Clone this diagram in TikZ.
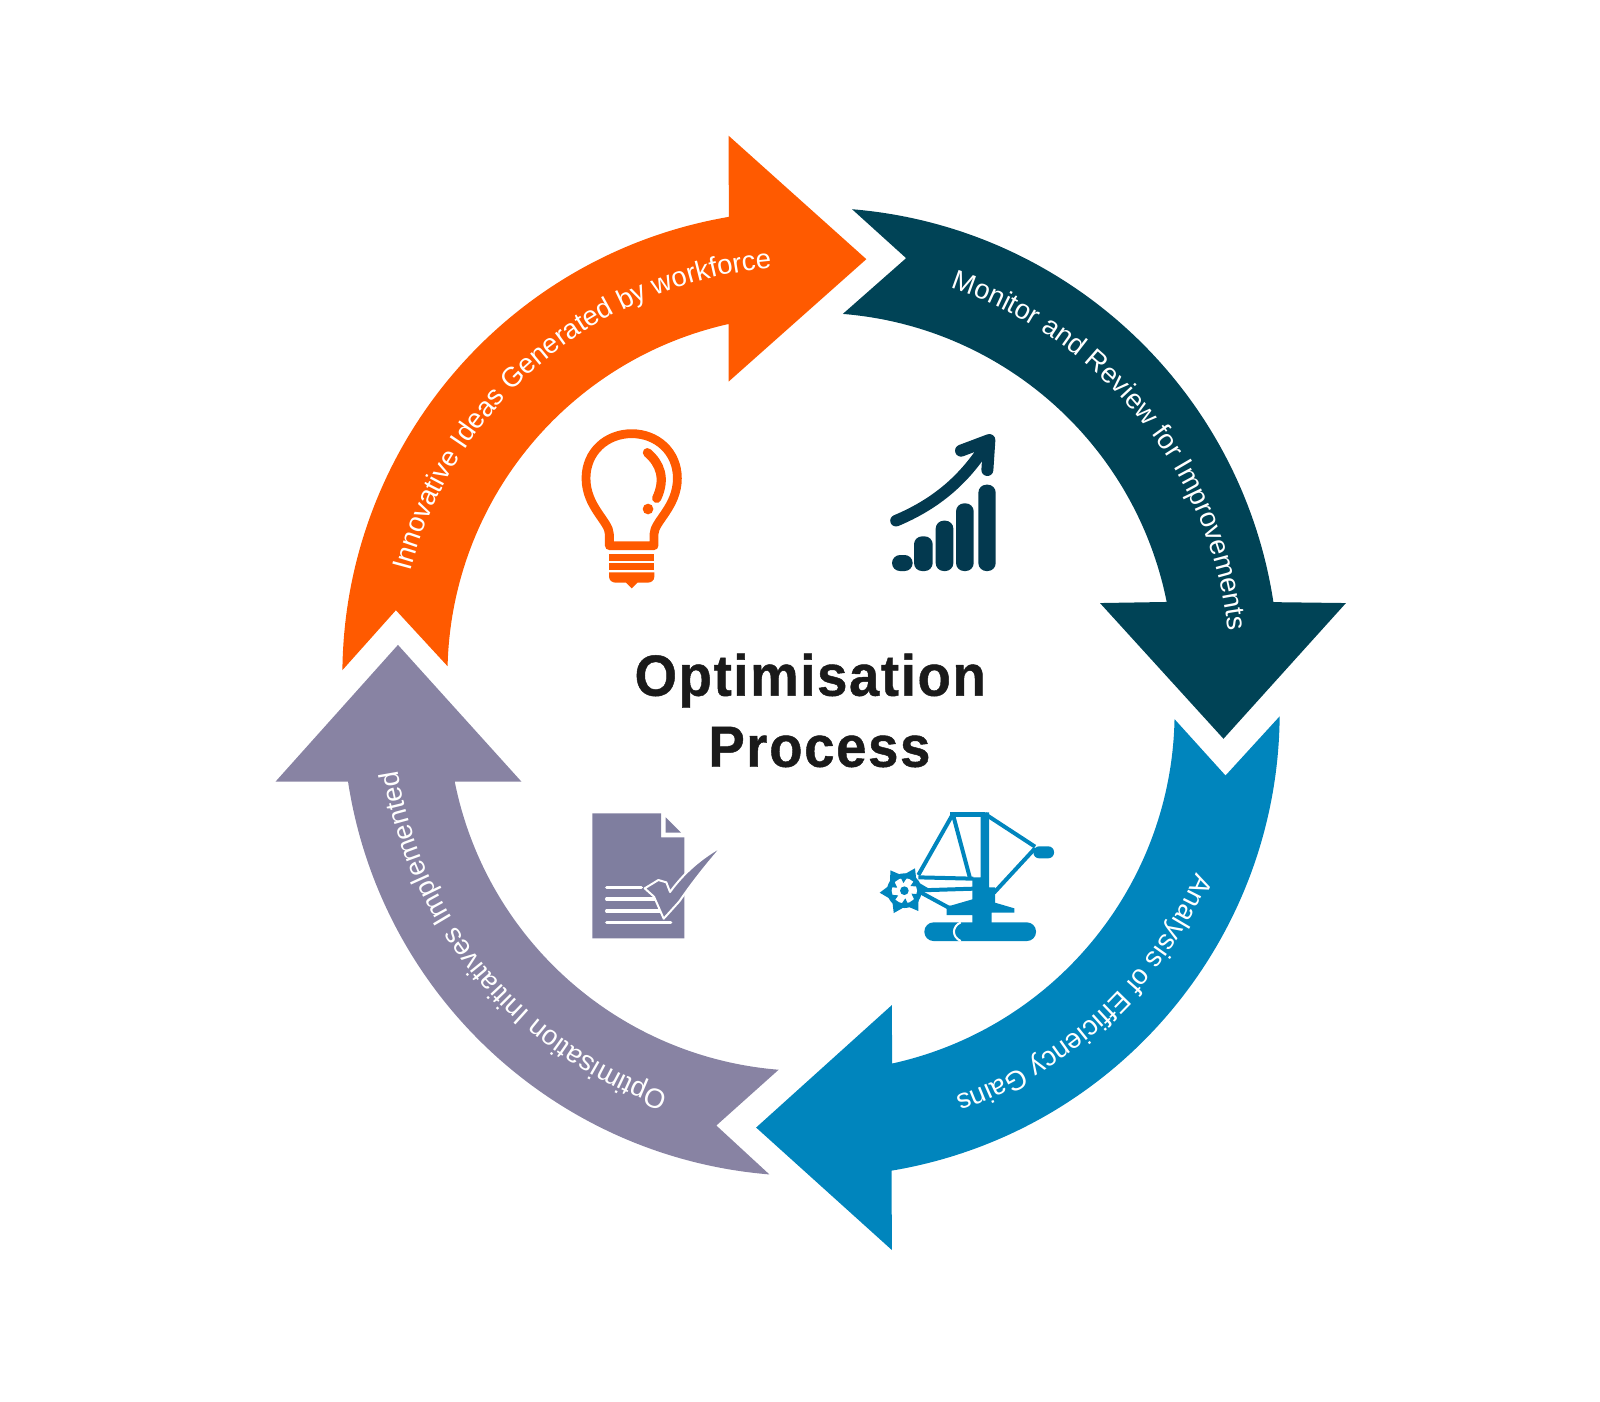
\documentclass[tikz,border=0pt]{standalone}
\usepackage{fontspec}
\setmainfont{Liberation Sans}
\newfontfamily\titlefont[LetterSpace=3,BoldFeatures={FakeBold=0.8}]{Liberation Sans}
\usetikzlibrary{decorations.text}
\definecolor{ideaorange}{HTML}{FF5A00}
\definecolor{monitorteal}{HTML}{004356}
\definecolor{chartnavy}{HTML}{03394F}
\definecolor{analysisblue}{HTML}{0085BD}
\definecolor{implementgrey}{HTML}{8883A3}
\definecolor{docgrey}{HTML}{7F7E9F}
\definecolor{titleblack}{HTML}{1A1A1A}
\newcommand{\ringfont}{\fontsize{13.8}{15}\selectfont\color{white}}
\tikzset{
  outerring/.style={radius=455.5},
  innerring/.style={radius=352.5},
  textring/.style={radius=400},
  ringtext/.style={decorate,decoration={text along path,text align=center,text={|\ringfont|#1}}},
  titletext/.style={text=titleblack,anchor=base,xscale=0.94,font=\titlefont\fontsize{29}{34}\selectfont\bfseries},
  icon/.style={x=0.1667pt,y=-0.1667pt}
}

\begin{document}
\begin{tikzpicture}[x=0.5102pt,y=0.5102pt]
  \useasboundingbox (0,0) rectangle (1568,1373);
  \coordinate (hubidea) at (791,711.5);
  \coordinate (hubmonitor) at (797.7,714);
  \coordinate (hubanalysis) at (798.6,675);
  \coordinate (hubimplement) at (791.3,676);
  % the labels sit on slightly shifted circles
  \coordinate (textidea) at (789,711.5);
  \coordinate (textmonitor) at (806,711);
  \coordinate (textanalysis) at (805,676);
  \coordinate (textimplement) at (785,680);

  % the four arrows of the ring
  \fill[ideaorange] ([shift={(hubidea)}]179.4:455.5) arc[outerring,start angle=179.4,end angle=99.7]
    -- (714,1240) -- (849,1119) -- (714,999)
    -- ([shift={(hubidea)}]102.6:352.5) arc[innerring,start angle=102.6,end angle=178.6]
    -- (388,775) -- cycle;
  \fill[monitorteal] ([shift={(hubmonitor)}]85.3:455.5) arc[outerring,start angle=85.3,end angle=8.7]
    -- (1319,782) -- (1199,649) -- (1078,782)
    -- ([shift={(hubmonitor)}]11.3:352.5) arc[innerring,start angle=11.3,end angle=85.4]
    -- (888,1120) -- cycle;
  \fill[analysisblue] ([shift={(hubanalysis)}]-0.5:455.5) arc[outerring,start angle=-0.5,end angle=-80.5]
    -- (874,148) -- (741,268) -- (874,388)
    -- ([shift={(hubanalysis)}]-77.6:352.5) arc[innerring,start angle=-77.6,end angle=-1.1]
    -- (1201,613) -- cycle;
  \fill[implementgrey] ([shift={(hubimplement)}]-94.7:455.5) arc[outerring,start angle=-94.7,end angle=-171.3]
    -- (270,607) -- (390,741) -- (511,607)
    -- ([shift={(hubimplement)}]-168.7:352.5) arc[innerring,start angle=-168.7,end angle=-94.6]
    -- (702,270) -- cycle;

  % labels running clockwise round the ring
  \path[ringtext={Innovative Ideas Generated by workforce}] ([shift={(textidea)}]178:400) arc[textring,start angle=178,end angle=82];
  \path[ringtext={Monitor and Review for Improvements}] ([shift={(textmonitor)}]87:400) arc[textring,start angle=87,end angle=-9];
  \path[ringtext={Analysis of Efficiency Gains}] ([shift={(textanalysis)}]1:400) arc[textring,start angle=1,end angle=-95];
  \path[ringtext={Optimisation Initiatives Implemented}] ([shift={(textimplement)}]-92:400) arc[textring,start angle=-92,end angle=-188];

  \node[titletext] (title1) at (794,691.2) {Optimisation};
  \node[titletext] (title2) at (803,621.6) {Process};

  % light bulb
  \begin{scope}[shift={(548.8,971.2)},icon]
    \draw[ideaorange,line width=4.4pt,line join=round] (148,407) -- (148,372)
      .. controls (148,335) and (78,290) .. (78,205)
      .. controls (78,125) and (140,71) .. (215,71)
      .. controls (290,71) and (352,125) .. (352,205)
      .. controls (352,290) and (282,335) .. (282,372) -- (282,407) -- cycle;
    \draw[ideaorange,line width=4.6pt,line cap=round] (262,128) .. controls (300,160) and (318,205) .. (290,265);
    \fill[ideaorange] (264,297) circle(16);
    \fill[ideaorange] (147,432) rectangle (283,453);
    \fill[ideaorange] (147,460) rectangle (283,480);
    \fill[ideaorange] (147,487) -- (283,487) -- (283,500) .. controls (283,512) and (272,518) .. (262,518)
      -- (232,518) -- (215,535) -- (198,518) -- (168,518) .. controls (158,518) and (147,512) .. (147,500) -- cycle;
  \end{scope}

  % rising bars with arrow
  \begin{scope}[shift={(852.6,961.4)},icon]
    \draw[chartnavy,line width=5.8pt,line cap=round] (78,302) .. controls (190,255) and (280,185) .. (350,72);
    \draw[chartnavy,line width=6pt,line cap=round,line join=round] (273,92) -- (358,60) -- (352,150);
    \fill[chartnavy,rounded corners=4pt] (66,405) rectangle (128,453);
    \fill[chartnavy,rounded corners=4pt] (132,349) rectangle (188,453);
    \fill[chartnavy,rounded corners=4pt] (197,302) rectangle (250,453);
    \fill[chartnavy,rounded corners=4pt] (258,250) rectangle (311,453);
    \fill[chartnavy,rounded corners=4pt] (325,194) rectangle (377,453);
  \end{scope}

  % bucket wheel excavator
  \begin{scope}[shift={(852.6,589)},icon]
    \fill[analysisblue,rounded corners=4.6pt] (163,367) rectangle (498,423);
    \draw[white,line width=1pt] (272,367) .. controls (245,380) and (245,410) .. (272,423);
    \fill[analysisblue] (307,232) -- (332,232) -- (332,37) -- (357,37) -- (357,262) -- (375,262) -- (375,308)
      -- (433,325) -- (433,338) -- (365,338) -- (365,370) -- (307,370) -- (307,345) -- (230,345)
      -- (230,318) -- (245,316) -- (307,298) -- cycle;
    \fill[analysisblue] (241,37) rectangle (345,50);
    \draw[analysisblue,line width=2pt] (247,45) -- (145,225);
    \draw[analysisblue,line width=2pt] (250,48) -- (300,235);
    \draw[analysisblue,line width=2pt] (345,42) -- (495,140);
    \draw[analysisblue,line width=2pt] (495,145) -- (372,278);
    \draw[analysisblue,line width=2pt] (145,232) -- (310,236);
    \draw[analysisblue,line width=2pt] (150,271) -- (310,266);
    \draw[analysisblue,line width=2pt] (148,275) -- (240,325);
    \fill[analysisblue,rounded corners=2.9pt] (490,139) rectangle (552,175);
    \fill[analysisblue] (103,272) circle(52);
    \foreach \ang in {0,60,120,180,240,300}
      \fill[analysisblue,shift={(103,272)},rotate=\ang] (74,-6) -- (40,-26) -- (42,18) -- cycle;
    \fill[white] (103,272) circle(38);
    \foreach \ang in {30,90,150,210,270,330}
      \fill[analysisblue,shift={(103,272)},rotate=\ang] (40,-11) -- (40,9) -- (23,-3) -- cycle;
    \fill[analysisblue] (103,272) circle(13);
  \end{scope}

  % document with tick
  \begin{scope}[shift={(568.4,589)},icon]
    \fill[docgrey] (37,40) -- (243,40) -- (243,112) -- (313,112) -- (313,415) -- (37,415) -- cycle;
    \fill[docgrey] (257,52) -- (303,98) -- (257,98) -- cycle;
    \draw[white,line width=1.7pt,line cap=round] (80,263) -- (184,263);
    \draw[white,line width=1.7pt,line cap=round] (80,297) -- (230,297);
    \draw[white,line width=1.7pt,line cap=round] (80,333) -- (245,333);
    \draw[white,line width=1.7pt,line cap=round] (80,368) -- (272,368);
    \draw[white,fill=docgrey,line width=1pt,line join=round,miter limit=2] (194,265) -- (235,240) -- (259,247) -- (270,276)
      .. controls (310,220) and (365,172) .. (428,138) .. controls (378,195) and (335,250) .. (298,304)
      -- (251,356) -- (222,290) -- cycle;
  \end{scope}
\end{tikzpicture}
\end{document}
